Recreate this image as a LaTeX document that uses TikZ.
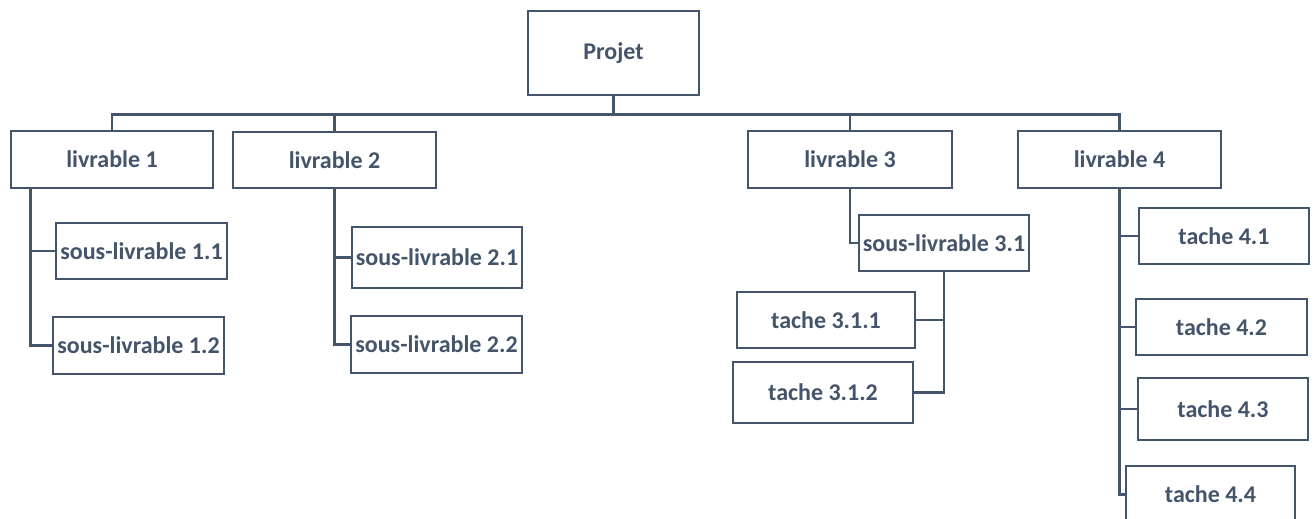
\documentclass[tikz,border=0pt]{standalone}
\usepackage{fontspec}
\setmainfont{Carlito}
\definecolor{slate}{HTML}{44546A}
\begin{document}
\begin{tikzpicture}[x=1pt,y=-1pt,
  line width=2.7pt, draw=slate,
  wbox/.style={draw=slate, fill=white, rectangle, inner sep=0pt, text=slate,
    font=\fontsize{24}{28}\selectfont\bfseries},
  link/.style={draw=slate, line width=2.7pt}]
\useasboundingbox (0,0) rectangle (1315,519);
\clip (0,0) rectangle (1315,519);
% nodes
\node[wbox, minimum width=171pt, minimum height=84pt] (P) at (613.5,53) {Projet};
\node[wbox, minimum width=202pt, minimum height=57pt] (L1) at (112,159.5) {livrable 1};
\node[wbox, minimum width=203pt, minimum height=56pt] (L2) at (334.5,160) {livrable 2};
\node[wbox, minimum width=204pt, minimum height=57pt] (L3) at (850,159.5) {livrable 3};
\node[wbox, minimum width=203pt, minimum height=57pt] (L4) at (1119.5,159.5) {livrable 4};
\node[wbox, minimum width=171pt, minimum height=56pt] (S11) at (141.5,251) {sous-livrable 1.1};
\node[wbox, minimum width=171pt, minimum height=57pt] (S12) at (138.5,345.5) {sous-livrable 1.2};
\node[wbox, minimum width=170pt, minimum height=61pt] (S21) at (437,257.5) {sous-livrable 2.1};
\node[wbox, minimum width=171pt, minimum height=57pt] (S22) at (436.5,344.5) {sous-livrable 2.2};
\node[wbox, minimum width=170pt, minimum height=56pt] (S31) at (944,243) {sous-livrable 3.1};
\node[wbox, minimum width=178pt, minimum height=56pt] (T311) at (826,320) {tache 3.1.1};
\node[wbox, minimum width=180pt, minimum height=61pt] (T312) at (823,392.5) {tache 3.1.2};
\node[wbox, minimum width=170pt, minimum height=56pt] (T41) at (1224,236) {tache 4.1};
\node[wbox, minimum width=171pt, minimum height=56pt] (T42) at (1221.5,327) {tache 4.2};
\node[wbox, minimum width=170pt, minimum height=62pt] (T43) at (1223,409) {tache 4.3};
\node[wbox, minimum width=169pt, minimum height=57pt] (T44) at (1210.5,494.5) {tache 4.4};
% connectors
\draw[link] (P.south) -- ++(0,18) coordinate (bj);
\draw[link] (L1.north) |- (bj) -| (L4.north);
\draw[link] (L2.north) |- (bj);
\draw[link] (L3.north) |- (bj);
\draw[link] ([xshift=21pt]L1.south west) |- (S11.west);
\draw[link] ([xshift=21pt]L1.south west) |- (S12.west);
\draw[link] (L2.south) |- (S21.west);
\draw[link] (L2.south) |- (S22.west);
\draw[link] (L3.south) |- (S31.west);
\draw[link] (S31.south) |- (T311.east);
\draw[link] (S31.south) |- (T312.east);
\draw[link] (L4.south) |- (T41.west);
\draw[link] (L4.south) |- (T42.west);
\draw[link] (L4.south) |- (T43.west);
\draw[link] (L4.south) |- (T44.west);
\end{tikzpicture}
\end{document}
